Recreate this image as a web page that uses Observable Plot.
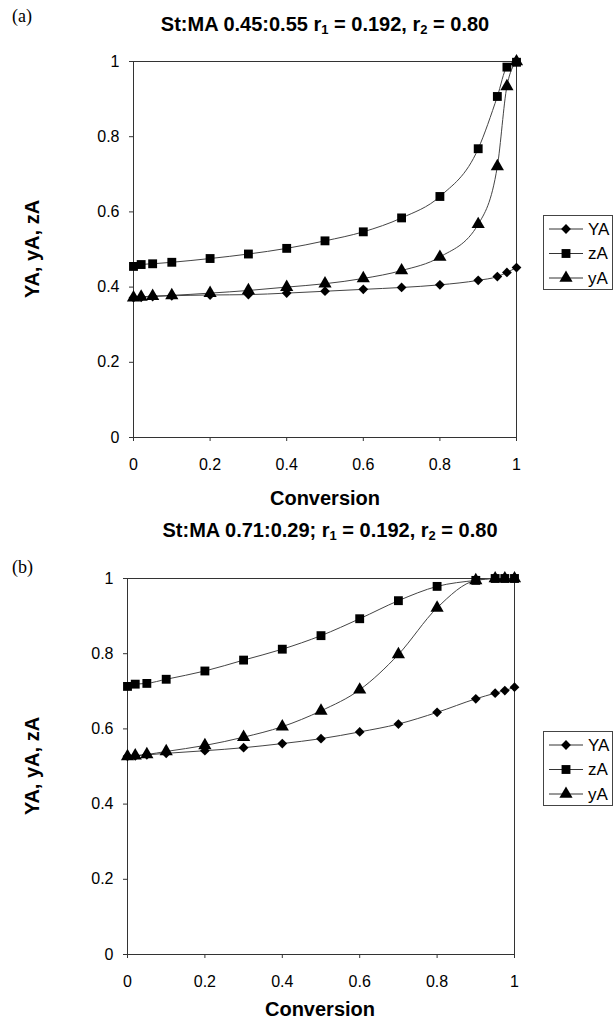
<!DOCTYPE html>
<html><head><meta charset="utf-8">
<script src="https://cdn.jsdelivr.net/npm/d3@7"></script>
<script src="https://cdn.jsdelivr.net/npm/@observablehq/plot@0.6"></script>
<style>
body{margin:0;background:#fff;}
#fig{position:relative;width:614px;height:1021px;font-family:Arial,"Liberation Sans",sans-serif;color:#000;overflow:hidden;background:#fff;}
.abs{position:absolute;white-space:nowrap;}
.title{font-weight:bold;font-size:20px;transform:translate(-50%,-50%);}
.xlab{font-weight:bold;font-size:20px;transform:translate(-50%,-50%);}
.ylab{font-weight:bold;font-size:20px;transform:translate(-50%,-50%) rotate(-90deg);}
.panel{font-family:"Liberation Serif","Times New Roman",serif;font-size:18px;transform:translateY(-50%);}
sub{font-size:65%;vertical-align:-0.25em;line-height:0;}
</style></head><body><div id="fig"></div>
<script>
// ---- data ----
const conversion = [0, 0.02, 0.05, 0.1, 0.2, 0.3, 0.4, 0.5, 0.6, 0.7, 0.8, 0.9, 0.95, 0.975, 1];
// panel (a) St:MA 0.45:0.55
const YA_a = [0.372, 0.373, 0.375, 0.377, 0.379, 0.380, 0.384, 0.389, 0.394, 0.399, 0.406, 0.418, 0.428, 0.439, 0.452];
const zA_a = [0.455, 0.460, 0.462, 0.466, 0.476, 0.488, 0.503, 0.523, 0.547, 0.584, 0.641, 0.768, 0.907, 0.985, 0.998];
const yA_a = [0.372, 0.374, 0.376, 0.378, 0.384, 0.391, 0.400, 0.409, 0.423, 0.444, 0.480, 0.567, 0.721, 0.934, 1.000];
// panel (b) St:MA 0.71:0.29
const YA_b = [0.527, 0.528, 0.531, 0.535, 0.542, 0.550, 0.561, 0.574, 0.592, 0.613, 0.644, 0.680, 0.695, 0.702, 0.711];
const zA_b = [0.713, 0.719, 0.721, 0.732, 0.754, 0.783, 0.812, 0.848, 0.893, 0.941, 0.979, 0.995, 1.000, 1.000, 1.000];
const yA_b = [0.527, 0.529, 0.532, 0.540, 0.556, 0.578, 0.606, 0.648, 0.704, 0.798, 0.922, 0.995, 1.000, 1.000, 1.000];

const seriesNames = ["YA", "zA", "yA"];
const seriesSymbols = ["diamond2", "square", "triangle"];
const seriesRadius = [4.4, 5.0, 4.9];
const ticks = [0, 0.2, 0.4, 0.6, 0.8, 1];
const tickLabels = ["0", "0.2", "0.4", "0.6", "0.8", "1"];
const titleA = 'St:MA 0.45:0.55 r<sub>1</sub> = 0.192, r<sub>2</sub> = 0.80';
const titleB = 'St:MA 0.71:0.29; r<sub>1</sub> = 0.192, r<sub>2</sub> = 0.80';
const xTitle = "Conversion";
const yTitle = "YA, yA, zA";

const fig = document.getElementById("fig");
const fmt = d => tickLabels[ticks.indexOf(d)];

function makePanel(series, cfg) {
  const rows = [];
  seriesNames.forEach((s, i) => conversion.forEach((x, j) => rows.push({series: s, x, v: series[i][j]})));
  const dots = seriesNames.map((s, i) =>
    Plot.dot(rows.filter(d => d.series === s), {
      x: "x", y: "v", symbol: seriesSymbols[i], r: seriesRadius[i], fill: "#000", stroke: "none"
    }));
  const svg = Plot.plot({
    width: 614, height: cfg.height,
    marginLeft: cfg.mL, marginRight: cfg.mR, marginTop: cfg.mT, marginBottom: cfg.mB,
    style: {fontFamily: "Arial, 'Liberation Sans', sans-serif", fontSize: "16px", background: "transparent", color: "#000", overflow: "visible"},
    x: {domain: [0, 1]},
    y: {domain: [0, 1]},
    marks: [
      Plot.axisX({ticks, tickFormat: fmt, tickSize: 4, tickPadding: 17, label: null, stroke: "#333"}),
      Plot.axisY({ticks, tickFormat: fmt, tickSize: 4, tickPadding: 10, label: null, stroke: "#333"}),
      Plot.frame({stroke: "#333", strokeWidth: 1}),
      Plot.line(rows, {x: "x", y: "v", z: "series", curve: "monotone-x", stroke: "#444", strokeWidth: 1}),
      ...dots
    ]
  });
  svg.style.position = "absolute";
  svg.style.left = "0px";
  svg.style.top = cfg.top + "px";
  fig.appendChild(svg);
}

function addText(cls, html, x, y) {
  const d = document.createElement("div");
  d.className = "abs " + cls;
  d.innerHTML = html;
  d.style.left = x + "px";
  d.style.top = y + "px";
  fig.appendChild(d);
}

function makeLegend(left, top) {
  const w = 70, h = 75;
  const svg = d3.create("svg").attr("width", w).attr("height", h)
    .style("position", "absolute").style("left", left + "px").style("top", top + "px");
  svg.append("rect").attr("x", 0.5).attr("y", 0.5).attr("width", w - 1).attr("height", h - 1)
    .attr("fill", "#fff").attr("stroke", "#444");
  seriesNames.forEach((name, i) => {
    const cy = 14 + i * 24.5;
    svg.append("line").attr("x1", 6).attr("x2", 40).attr("y1", cy).attr("y2", cy).attr("stroke", "#333");
    const symName = seriesSymbols[i];
    const sym = symName === "diamond2" ? d3.symbolDiamond2 : symName === "square" ? d3.symbolSquare : d3.symbolTriangle;
    const size = Math.PI * seriesRadius[i] * seriesRadius[i];
    svg.append("path").attr("d", d3.symbol(sym, size)()).attr("transform", `translate(23,${cy})`).attr("fill", "#000");
    svg.append("text").attr("x", 45).attr("y", cy).attr("dy", "0.35em")
      .attr("font-family", "Arial, 'Liberation Sans', sans-serif").attr("font-size", 17).text(name);
  });
  fig.appendChild(svg.node());
}

// panel (a)
makePanel([YA_a, zA_a, yA_a], {top: 0, height: 510, mL: 133, mR: 98, mT: 61, mB: 73});
addText("panel", "(a)", 12, 16);
addText("title", titleA, 325, 24);
addText("xlab", xTitle, 325, 498);
addText("ylab", yTitle, 32, 249);
makeLegend(543, 215);

// panel (b)
makePanel([YA_b, zA_b, yA_b], {top: 510, height: 511, mL: 127, mR: 100, mT: 68, mB: 67});
addText("panel", "(b)", 12, 567);
addText("title", titleB, 330, 530);
addText("xlab", xTitle, 320, 1009);
addText("ylab", yTitle, 32, 766);
makeLegend(543, 731);
</script></body></html>
